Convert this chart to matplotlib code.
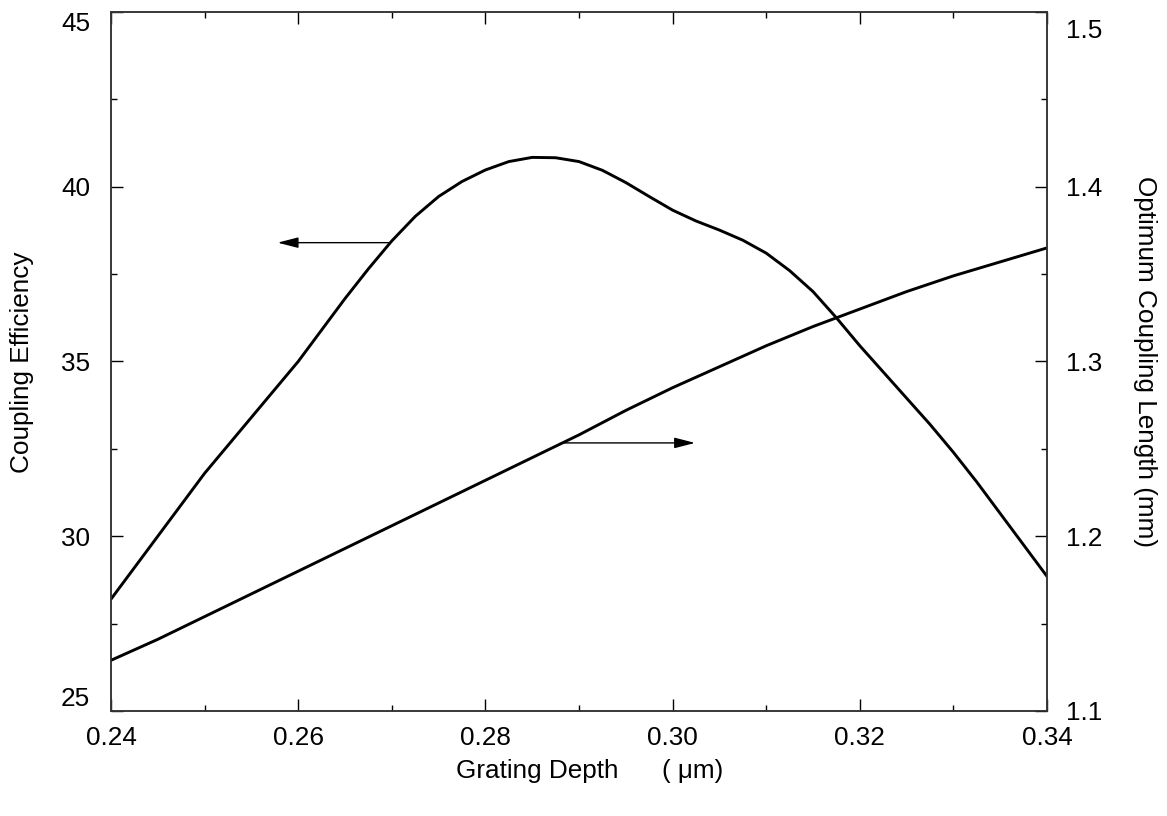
import numpy as np
import matplotlib
matplotlib.use("Agg")
import matplotlib.pyplot as plt
from matplotlib.ticker import MultipleLocator, FuncFormatter

plt.rcParams['font.family'] = ['Liberation Sans', 'DejaVu Sans']

# grating depth (um)
depth = [0.2400, 0.2425, 0.2450, 0.2475, 0.2500, 0.2525, 0.2550, 0.2575, 0.2600, 0.2625,
         0.2650, 0.2675, 0.2700, 0.2725, 0.2750, 0.2775, 0.2800, 0.2825, 0.2850, 0.2875,
         0.2900, 0.2925, 0.2950, 0.2975, 0.3000, 0.3025, 0.3050, 0.3075, 0.3100, 0.3125,
         0.3150, 0.3175, 0.3200, 0.3225, 0.3250, 0.3275, 0.3300, 0.3325, 0.3350, 0.3375,
         0.3400]
# coupling efficiency (left axis)
efficiency = [28.2, 29.1, 30.0, 30.9, 31.8, 32.6, 33.4, 34.2, 35.0, 35.9,
              36.8, 37.65, 38.45, 39.15, 39.72, 40.15, 40.48, 40.72, 40.84, 40.83,
              40.72, 40.47, 40.12, 39.72, 39.33, 39.02, 38.76, 38.47, 38.1, 37.6,
              37.0, 36.25, 35.45, 34.7, 33.95, 33.2, 32.4, 31.55, 30.65, 29.75,
              28.85]
# optimum coupling length in mm (right axis)
depth_len = [0.240, 0.245, 0.250, 0.255, 0.260, 0.265, 0.270, 0.275, 0.280, 0.285, 0.290,
             0.295, 0.300, 0.305, 0.310, 0.315, 0.320, 0.325, 0.330, 0.335, 0.340]
length = [1.129, 1.141, 1.154, 1.167, 1.180, 1.193, 1.206, 1.219, 1.232, 1.245, 1.258,
          1.272, 1.285, 1.297, 1.309, 1.320, 1.330, 1.340, 1.349, 1.357, 1.365]

fig = plt.figure(figsize=(11.67, 8.16), dpi=100)
ax = fig.add_axes([0.0951, 0.1287, 0.8021, 0.8566])
ax2 = ax.twinx()

ax.plot(depth, efficiency, color='black', lw=2.1)
ax2.plot(depth_len, length, color='black', lw=2.1)

ax.set_xlim(0.24, 0.34)
ax.set_ylim(25, 45)
ax2.set_ylim(1.1, 1.5)

ax.xaxis.set_major_locator(MultipleLocator(0.02))
ax.xaxis.set_minor_locator(MultipleLocator(0.01))
ax.yaxis.set_major_locator(MultipleLocator(5))
ax.yaxis.set_minor_locator(MultipleLocator(2.5))
ax2.yaxis.set_major_locator(MultipleLocator(0.1))
ax2.yaxis.set_minor_locator(MultipleLocator(0.05))

ax.xaxis.set_major_formatter(FuncFormatter(lambda v, p: f"{v:.2f}"))
# end labels are drawn separately, shifted inside the axis range
ax.yaxis.set_major_formatter(FuncFormatter(lambda v, p: '' if round(v) in (25, 45) else f"{v:.0f}"))
ax2.yaxis.set_major_formatter(FuncFormatter(lambda v, p: '' if round(v, 1) == 1.5 else f"{v:.1f}"))

fs = 18.8
ax.tick_params(axis='x', which='both', direction='in', top=True, labelsize=fs, pad=11)
ax.tick_params(axis='y', which='both', direction='in', labelsize=fs, pad=15)
ax2.tick_params(axis='y', which='both', direction='in', labelsize=fs, pad=14)
for a in (ax, ax2):
    a.tick_params(which='major', length=8.5, width=1)
    a.tick_params(which='minor', length=4.3, width=1)
    for s in a.spines.values():
        s.set_linewidth(1.1)
        s.set_color('#333333')

ax.annotate('45', xy=(0, 45), xycoords=('axes fraction', 'data'), xytext=(-15, 0),
            textcoords='offset points', ha='right', va='top', fontsize=fs)
ax.annotate('25', xy=(0, 25), xycoords=('axes fraction', 'data'), xytext=(-15, 0),
            textcoords='offset points', ha='right', va='bottom', fontsize=fs)
ax2.annotate('1.5', xy=(1, 1.5), xycoords=('axes fraction', 'data'), xytext=(14, -5),
             textcoords='offset points', ha='left', va='top', fontsize=fs)

# arrows pointing to the axis each curve belongs to
ax.annotate('', xy=(0.2578, 38.4), xytext=(0.2697, 38.4),
            arrowprops=dict(arrowstyle='-|>,head_length=0.7,head_width=0.18',
                            color='black', lw=1, mutation_scale=18, shrinkA=0, shrinkB=0))
ax2.annotate('', xy=(0.3024, 1.2534), xytext=(0.2883, 1.2534),
             arrowprops=dict(arrowstyle='-|>,head_length=0.7,head_width=0.18',
                             color='black', lw=1, mutation_scale=18, shrinkA=0, shrinkB=0))

fig.text(590 / 1167, 1 - 771 / 816, 'Grating Depth      ( \u03bcm)', ha='center', va='center', fontsize=fs)
fig.text(22 / 1167, 1 - 362 / 816, 'Coupling Efficiency', rotation=90, ha='center', va='center', fontsize=fs)
fig.text(1145 / 1167, 1 - 362 / 816, 'Optimum Coupling Length (mm)', rotation=270, ha='center', va='center', fontsize=fs)

fig.savefig('out.png', dpi=100)
